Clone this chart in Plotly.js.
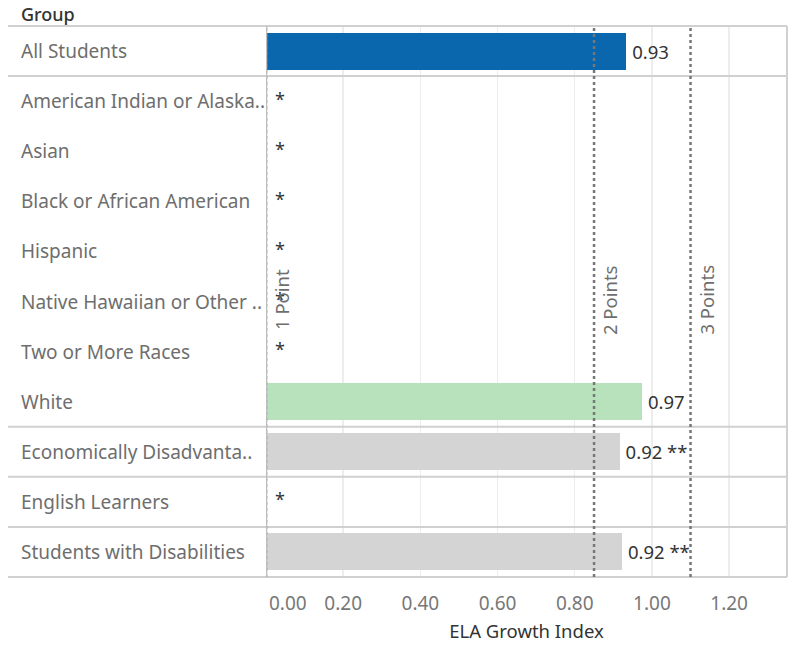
<!DOCTYPE html>
<html>
<head>
<meta charset="utf-8">
<script src="https://cdn.plot.ly/plotly-3.0.1.min.js"></script>
<style>html,body{margin:0;padding:0;background:#fff;}#chart{width:795px;height:646px;}</style>
</head>
<body>
<div id="chart"></div>
<script>
// ---- data ----
const groups = ['All Students','American Indian or Alaska..','Asian','Black or African American','Hispanic','Native Hawaiian or Other ..','Two or More Races','White','Economically Disadvanta..','English Learners','Students with Disabilities'];
const sections = ['all','race','race','race','race','race','race','race','ed','el','swd'];
const values = [0.933, null, null, null, null, null, null, 0.974, 0.916, null, 0.922];
const valueLabels = ['0.93', null, null, null, null, null, null, '0.97', '0.92 **', null, '0.92 **'];
const suppressedMark = '\u2002*';
const barColors = ['#0b67ad', null, null, null, null, null, null, '#b7e2bb', '#d4d4d4', null, '#d4d4d4'];
const refValues = [0, 0.85, 1.10];
const refLabels = ['1 Point', '2 Points', '3 Points'];
const tickValues = [0, 0.2, 0.4, 0.6, 0.8, 1.0, 1.2];
const xTitle = 'ELA Growth Index';
const headerText = 'Group';

// ---- layout helpers ----
const W = 795, H = 646;
const margin = {l: 266, r: 8, t: 26, b: 69};
const plotW = W - margin.l - margin.r;
const plotH = H - margin.t - margin.b;
const pxToPaperX = px => (px - margin.l) / plotW;
const pxToPaperY = py => 1 - (py - margin.t) / plotH;
const FONT = 'Noto Sans, Open Sans, sans-serif';

const barTrace = {
  type: 'bar', orientation: 'h',
  y: groups, x: values,
  marker: {color: barColors.map(c => c || 'rgba(0,0,0,0)')},
  width: 0.74,
  text: valueLabels.map(t => t ? '\u2009' + t : ''),
  textposition: 'outside',
  textfont: {family: FONT, size: 18.5, color: '#333'},
  cliponaxis: false,
  hoverinfo: 'skip'
};

const starY = [], starX = [];
values.forEach((v, i) => { if (v === null) { starY.push(groups[i]); starX.push(0); } });
const starTrace = {
  type: 'scatter', mode: 'text',
  y: starY, x: starX,
  text: starY.map(() => suppressedMark),
  textposition: 'middle right',
  textfont: {family: FONT, size: 18, color: '#333'},
  cliponaxis: false,
  hoverinfo: 'skip'
};

const shapes = [];
const sepColor = '#d0d0d0';
shapes.push({type: 'line', xref: 'paper', yref: 'paper', x0: pxToPaperX(8), x1: 1, y0: 1, y1: 1, line: {color: sepColor, width: 2}});
shapes.push({type: 'line', xref: 'paper', yref: 'paper', x0: pxToPaperX(8), x1: 1, y0: 0, y1: 0, line: {color: sepColor, width: 2}});
for (let i = 1; i < sections.length; i++) {
  if (sections[i] !== sections[i-1]) {
    shapes.push({type: 'line', xref: 'paper', yref: 'y', x0: pxToPaperX(8), x1: 1, y0: i - 0.5, y1: i - 0.5, line: {color: sepColor, width: 2}});
  }
}
shapes.push({type: 'line', xref: 'paper', yref: 'paper', x0: 1, x1: 1, y0: 0, y1: 1, line: {color: sepColor, width: 2}});
refValues.forEach((v, i) => {
  shapes.push({type: 'line', xref: 'x', yref: 'paper', x0: v, x1: v, y0: 0, y1: 1,
    line: {color: '#777', width: 2.5, dash: 'dot'}});
});
// axis line drawn last so it sits on top of the reference line at 0
shapes.push({type: 'line', xref: 'x', yref: 'paper', x0: 0, x1: 0, y0: 0, y1: 1, line: {color: '#bdbdbd', width: 2.5}});

const annotations = [];
groups.forEach((g, i) => {
  annotations.push({xref: 'paper', yref: 'y', x: pxToPaperX(19), y: g, text: g, showarrow: false,
    xanchor: 'left', yanchor: 'middle', font: {family: FONT, size: 19, color: '#6e6e6e'}});
});
annotations.push({xref: 'paper', yref: 'paper', x: pxToPaperX(19), y: pxToPaperY(14), text: headerText, showarrow: false,
  xanchor: 'left', yanchor: 'middle', font: {family: FONT, size: 18, color: '#333', weight: 500}});
refValues.forEach((v, i) => {
  annotations.push({xref: 'x', yref: 'paper', x: v, y: pxToPaperY(300), text: refLabels[i], showarrow: false,
    textangle: -90, xanchor: 'center', yanchor: 'middle', xshift: 16,
    font: {family: FONT, size: 18.5, color: '#6e6e6e'}});
});
annotations.push({xref: 'x', yref: 'paper', x: tickValues[0], y: pxToPaperY(603), text: tickValues[0].toFixed(2), showarrow: false,
  xanchor: 'left', yanchor: 'middle', xshift: 1, font: {family: FONT, size: 19, color: '#777'}});

const layout = {
  width: W, height: H, margin: margin,
  paper_bgcolor: '#fff', plot_bgcolor: '#fff',
  showlegend: false,
  bargap: 0,
  xaxis: {
    range: [0, 1.35], fixedrange: true,
    tickvals: tickValues,
    ticktext: tickValues.map((t, i) => i === 0 ? '' : t.toFixed(2)),
    showgrid: true, gridcolor: '#ededed', gridwidth: 1.5,
    zeroline: false, showline: false, ticks: '',
    tickfont: {family: FONT, size: 19, color: '#777'},
    ticklabelstandoff: 13,
    title: {text: xTitle, font: {family: FONT, size: 18.5, color: '#333'}, standoff: 10}
  },
  yaxis: {
    type: 'category', categoryorder: 'array', categoryarray: groups,
    range: [groups.length - 0.5, -0.5], fixedrange: true,
    showticklabels: false, showgrid: false, zeroline: false, ticks: '',
    showline: false
  },
  shapes: shapes,
  annotations: annotations,
  font: {family: FONT}
};

Plotly.newPlot('chart', [barTrace, starTrace], layout, {displayModeBar: false, staticPlot: true});
</script>
</body>
</html>
